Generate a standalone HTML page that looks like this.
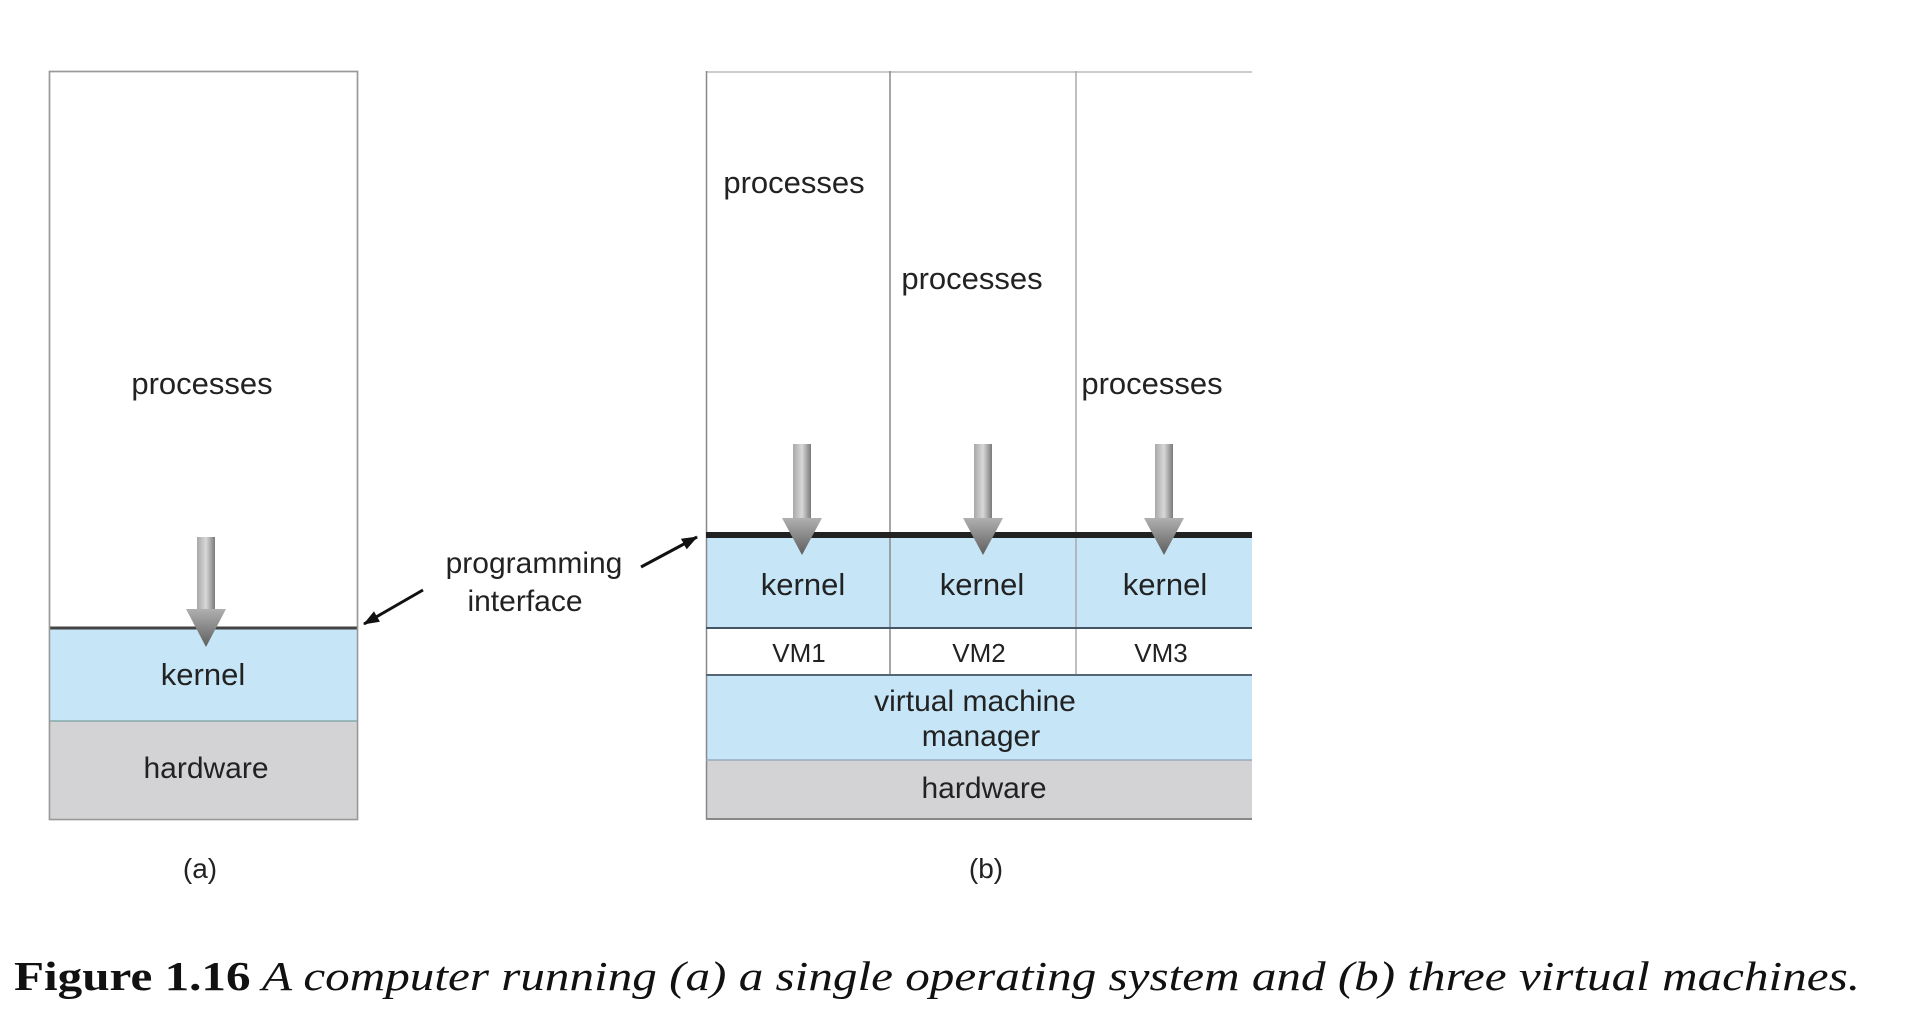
<!DOCTYPE html>
<html><head><meta charset="utf-8"><style>
html,body{margin:0;padding:0;background:#fff;}
svg{display:block;}
text{font-family:"Liberation Sans",sans-serif;fill:#222;}
</style></head><body>
<svg width="1910" height="1035" viewBox="0 0 1910 1035" xmlns="http://www.w3.org/2000/svg">
<defs>
<linearGradient id="g" x1="0" y1="0" x2="0" y2="1">
<stop offset="0" stop-color="#b0b0b0"/><stop offset="1" stop-color="#5e5e5e"/>
</linearGradient>
<linearGradient id="gs" x1="0" y1="0" x2="1" y2="0">
<stop offset="0" stop-color="#a8a8a8"/><stop offset="0.5" stop-color="#d8d8d8"/><stop offset="1" stop-color="#7a7a7a"/>
</linearGradient>
<marker id="ah" markerWidth="16" markerHeight="12" refX="15" refY="6" orient="auto" markerUnits="userSpaceOnUse">
<path d="M0,0 L16,6 L0,12 z" fill="#111"/>
</marker>
</defs>

<!-- (a) -->
<rect x="49.5" y="71.5" width="308" height="748" fill="#fff" stroke="#aaa" stroke-width="1.5"/>
<rect x="50" y="628" width="307" height="93" fill="#c6e6f8"/>
<rect x="50" y="721" width="307" height="98" fill="#d3d3d6"/>
<line x1="50" y1="628" x2="357" y2="628" stroke="#444" stroke-width="3"/>
<line x1="50" y1="721" x2="357" y2="721" stroke="#8aa" stroke-width="1.5"/>
<rect x="49.5" y="71.5" width="308" height="748" fill="none" stroke="#999" stroke-width="1.5"/>
<text x="202" y="394" font-size="31" text-anchor="middle">processes</text>
<text x="203" y="685" font-size="31" text-anchor="middle">kernel</text>
<text x="206" y="778" font-size="30" text-anchor="middle">hardware</text>
<g>
<rect x="197" y="537" width="18" height="72" fill="url(#gs)"/>
<path d="M186,609 L226,609 L206,647 z" fill="url(#g)"/>
</g>

<!-- programming interface -->
<text x="534" y="573" font-size="30" text-anchor="middle">programming</text>
<text x="525" y="611" font-size="30" text-anchor="middle">interface</text>
<line x1="423" y1="590" x2="364" y2="624" stroke="#111" stroke-width="3" marker-end="url(#ah)"/>
<line x1="641" y1="567" x2="697" y2="537" stroke="#111" stroke-width="3" marker-end="url(#ah)"/>

<!-- (b) -->
<g transform="translate(-4,0)">
<rect x="710" y="535" width="546" height="93" fill="#c6e6f8"/>
<rect x="710" y="675" width="546" height="85" fill="#c6e6f8"/>
<rect x="710" y="760" width="546" height="59" fill="#d3d3d6"/>
<line x1="710" y1="72" x2="1256" y2="72" stroke="#bbb" stroke-width="1.5"/>
<line x1="710.5" y1="71" x2="710.5" y2="819" stroke="#888" stroke-width="1.5"/>
<line x1="894" y1="71" x2="894" y2="675" stroke="#888" stroke-width="1.5"/>
<line x1="1080" y1="71" x2="1080" y2="675" stroke="#aaa" stroke-width="1.5"/>
<line x1="710" y1="535" x2="1256" y2="535" stroke="#222" stroke-width="6"/>
<line x1="710" y1="628" x2="1256" y2="628" stroke="#456" stroke-width="2"/>
<line x1="710" y1="675" x2="1256" y2="675" stroke="#567" stroke-width="2"/>
<line x1="710" y1="760" x2="1256" y2="760" stroke="#9ab" stroke-width="1.5"/>
<line x1="710" y1="819" x2="1256" y2="819" stroke="#888" stroke-width="2"/>

<text x="798" y="193" font-size="31" text-anchor="middle">processes</text>
<text x="976" y="289" font-size="31" text-anchor="middle">processes</text>
<text x="1156" y="394" font-size="31" text-anchor="middle">processes</text>
<text x="807" y="595" font-size="31" text-anchor="middle">kernel</text>
<text x="986" y="595" font-size="31" text-anchor="middle">kernel</text>
<text x="1169" y="595" font-size="31" text-anchor="middle">kernel</text>
<text x="803" y="662" font-size="26" text-anchor="middle">VM1</text>
<text x="983" y="662" font-size="26" text-anchor="middle">VM2</text>
<text x="1165" y="662" font-size="26" text-anchor="middle">VM3</text>
<text x="979" y="711" font-size="30" text-anchor="middle">virtual machine</text>
<text x="985" y="746" font-size="30" text-anchor="middle">manager</text>
<text x="988" y="798" font-size="30" text-anchor="middle">hardware</text>

<rect x="797" y="444" width="18" height="74" fill="url(#gs)"/>
<path d="M786,518 L826,518 L806,555 z" fill="url(#g)"/>
<rect x="978" y="444" width="18" height="74" fill="url(#gs)"/>
<path d="M967,518 L1007,518 L987,555 z" fill="url(#g)"/>
<rect x="1159" y="444" width="18" height="74" fill="url(#gs)"/>
<path d="M1148,518 L1188,518 L1168,555 z" fill="url(#g)"/>
</g>

<text x="200" y="878" font-size="28" text-anchor="middle">(a)</text>
<text x="986" y="878" font-size="28" text-anchor="middle">(b)</text>

<text x="14" y="990" font-size="41" style="font-family:'Liberation Serif',serif;fill:#111" textLength="1846" lengthAdjust="spacingAndGlyphs"><tspan font-weight="bold">Figure 1.16</tspan><tspan font-style="italic">  A computer running (a) a single operating system and (b) three virtual machines.</tspan></text>
</svg>
</body></html>
